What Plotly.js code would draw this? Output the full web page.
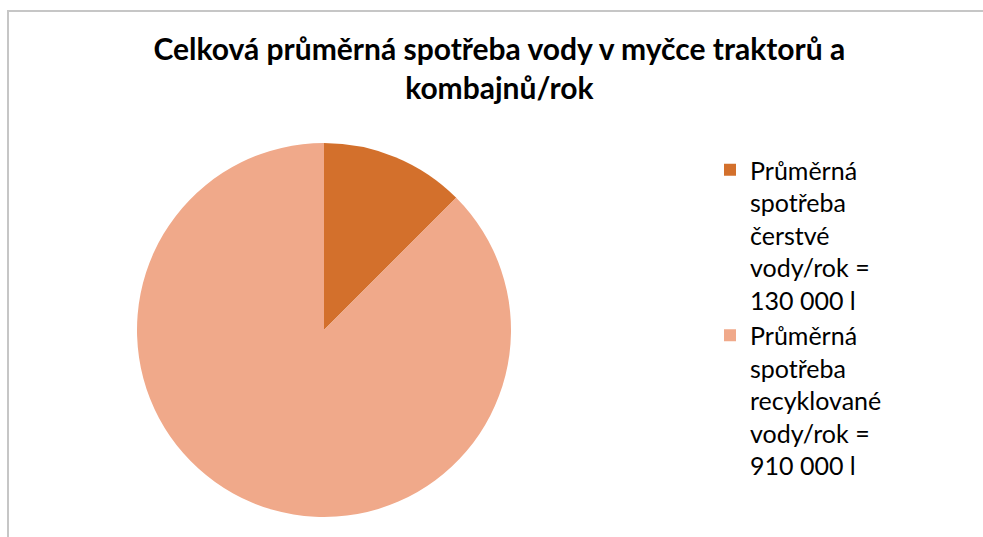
<!DOCTYPE html>
<html>
<head>
<meta charset="utf-8">
<script src="https://cdn.plot.ly/plotly-3.0.1.min.js"></script>
<style>
html,body{margin:0;padding:0;background:#fff;}
#frame{position:absolute;left:7px;top:10px;width:1000px;height:560px;border-left:2px solid #c6c6c6;border-top:2px solid #c6c6c6;}
#chart{position:absolute;left:0;top:0;width:983px;height:537px;}
</style>
</head>
<body>
<div id="frame"></div>
<div id="chart"></div>
<script>
const titleText = "Celková průměrná spotřeba vody v myčce traktorů a<br>kombajnů/rok";
const labels = [
  "Průměrná<br>spotřeba<br>čerstvé<br>vody/rok =<br>130 000 l",
  "Průměrná<br>spotřeba<br>recyklované<br>vody/rok =<br>910 000 l"
];
const values = [130000, 910000];
const colors = ["#D3702C", "#F0A98A"];

const W = 983, H = 537;
const cx = 324, cy = 330, r = 187;

const trace = {
  type: "pie",
  labels: labels,
  values: values,
  sort: false,
  direction: "clockwise",
  rotation: 0,
  textinfo: "none",
  hoverinfo: "label+value",
  marker: {colors: colors, line: {width: 0}},
  domain: {
    x: [(cx - r) / W, (cx + r) / W],
    y: [(H - cy - r) / H, (H - cy + r) / H]
  }
};

const layout = {
  width: W, height: H,
  margin: {l: 0, r: 0, t: 0, b: 0},
  paper_bgcolor: "rgba(0,0,0,0)",
  plot_bgcolor: "rgba(0,0,0,0)",
  font: {family: "Lato, 'Open Sans', sans-serif", color: "#000"},
  title: {
    text: "<b>" + titleText + "</b>",
    font: {family: "Lato, 'Open Sans', sans-serif", size: 30, color: "#000"},
    x: 0.508, xanchor: "center",
    y: 1 - 60 / H, yanchor: "top"
  },
  showlegend: true,
  legend: {
    x: 710 / W, xanchor: "left",
    y: 1 - 147 / H, yanchor: "top",
    valign: "top",
    font: {family: "Lato, 'Open Sans', sans-serif", size: 25, color: "#000"},
    bgcolor: "rgba(0,0,0,0)",
    traceorder: "normal"
  }
};

Plotly.newPlot("chart", [trace], layout, {displayModeBar: false, staticPlot: true});
</script>
</body>
</html>
